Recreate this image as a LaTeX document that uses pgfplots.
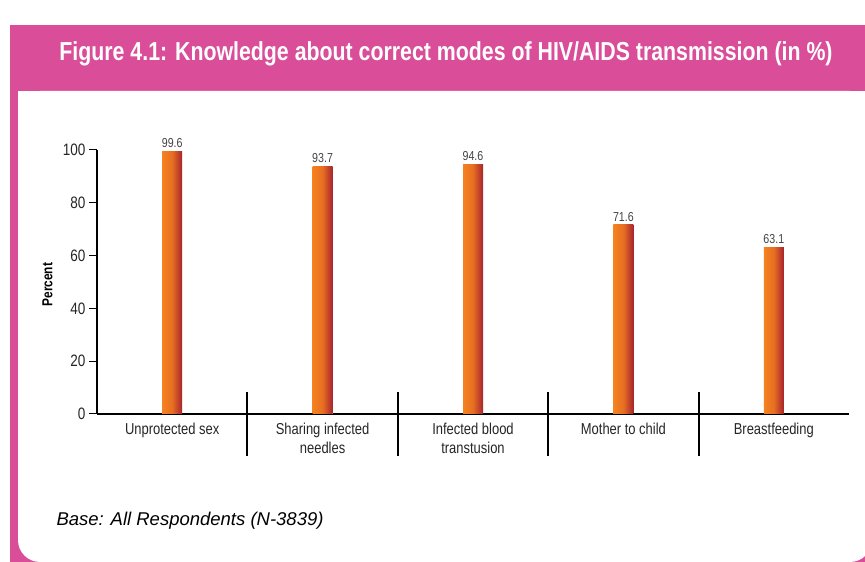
\documentclass[border=0pt]{standalone}
\usepackage{pgfplots}
\pgfplotsset{compat=1.18}
\usepackage{fontspec}
\setmainfont{Liberation Sans}[FakeStretch=0.82]
\newfontfamily\basefont{Liberation Sans}
\definecolor{pinkbg}{HTML}{D94D99}
\definecolor{barL}{HTML}{F5821F}
\definecolor{barR}{HTML}{A8232E}
\definecolor{valgray}{HTML}{444444}
\begin{document}
\begin{tikzpicture}[x=1pt,y=1pt]
\useasboundingbox (0,0) rectangle (865,562);
\clip (0,0) rectangle (865,562);
\fill[pinkbg] (10,-20) rectangle (900,537);
\fill[white,rounded corners=22pt] (18,0) rectangle (872,471);
\fill[white] (18,200) rectangle (872,471);
\node[text=white,font=\fontsize{26}{30}\selectfont\bfseries] at (446,508) {Figure 4.1: Knowledge about correct modes of HIV/AIDS transmission (in \%)};
\node[anchor=west,font=\basefont\fontsize{18.5}{22}\selectfont\itshape] at (53,41) {Base: All Respondents (N-3839)};
\begin{axis}[
  at={(97pt,148pt)}, anchor=south west,
  scale only axis, width=752pt, height=264pt,
  xmin=-0.5, xmax=4.5, ymin=0, ymax=100,
  axis x line*=bottom, axis y line*=left,
  x axis line style={line width=2pt,-},
  y axis line style={line width=1.2pt,-},
  xtick={0,1,2,3,4},
  xticklabels={Unprotected sex,{Sharing infected\\needles},{Infected blood\\transtusion},Mother to child,Breastfeeding},
  xticklabel style={align=center,font=\fontsize{15.8}{19}\selectfont,text=black!85,yshift=2pt},
  xtick style={draw=none},
  ytick={0,20,40,60,80,100},
  yticklabel style={font=\fontsize{16.5}{19}\selectfont,text=black!85},
  /pgf/number format/assume math mode=true,
  ytick style={line width=1pt,black},
  tick align=outside, major tick length=8pt,
  ylabel={\bfseries Percent},
  ylabel style={font=\fontsize{14.5}{17}\selectfont,at={(axis description cs:-0.066,0.49)},anchor=center},
  clip=false,
  ybar, bar width=20pt, bar shift=0pt,
  nodes near coords,
  nodes near coords style={font=\fontsize{13}{15}\selectfont,text=valgray,/pgf/number format/fixed,/pgf/number format/precision=1,/pgf/number format/fixed zerofill},
  every axis plot/.append style={draw=none,left color=barL,right color=barR,middle color=barL!80!barR},
]
\addplot coordinates {(0,99.6)};
\addplot coordinates {(1,93.7)};
\addplot coordinates {(2,94.6)};
\addplot coordinates {(3,71.6)};
\addplot coordinates {(4,63.1)};
\foreach \xx in {0.5,1.5,2.5,3.5}{
  \edef\tmp{\noexpand\draw[line width=2pt] (axis cs:\xx,8.3) -- (axis cs:\xx,-15.9);}
  \tmp
}
\end{axis}
\end{tikzpicture}
\end{document}
